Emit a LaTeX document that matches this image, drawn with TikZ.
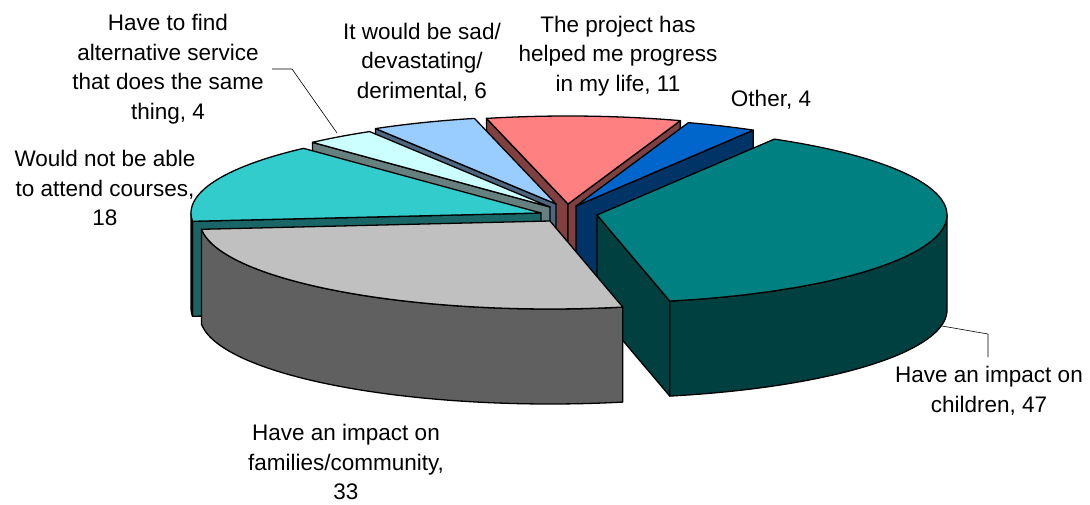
\documentclass[tikz,border=0pt]{standalone}
\usepackage{fontspec}
\setmainfont{Liberation Sans}
\usepackage{xcolor}
\usepackage{tikz}
\definecolor{childtop}{HTML}{008080}
\definecolor{childside}{HTML}{004040}
\definecolor{famtop}{HTML}{C0C0C0}
\definecolor{famside}{HTML}{606060}
\definecolor{atttop}{HTML}{33CCCC}
\definecolor{attside}{HTML}{1A6666}
\definecolor{alttop}{HTML}{CCFFFF}
\definecolor{altside}{HTML}{668080}
\definecolor{sadtop}{HTML}{99CCFF}
\definecolor{sadside}{HTML}{4D6680}
\definecolor{progtop}{HTML}{FF8080}
\definecolor{progside}{HTML}{804040}
\definecolor{othtop}{HTML}{0066CC}
\definecolor{othside}{HTML}{003366}
\pgfkeys{tikz/pieline/.style={draw=black,line width=1.3pt,line join=round}}
\pgfkeys{tikz/pielabel/.style={align=center,inner sep=0pt,font=\fontsize{22.5}{29.5}\selectfont}}
\pgfkeys{tikz/leader/.style={draw=black,line width=0.6pt}}
\newcommand\pieR{350}
\newcommand\pier{88}
\newcommand\pied{95}
% top face of a slice: centre, start angle, end angle, colour
\newcommand*\slicetop[5]{
    \filldraw[pieline,fill=#5] (#1,#2) -- plot[domain=#3:#4,samples=80] ({#1+\pieR*cos(\x)},{#2+\pier*sin(\x)}) -- cycle;
}
% curved outer side, front half only
\newcommand*\slicerim[5]{
    \filldraw[pieline,fill=#5] plot[domain=#3:#4,samples=80] ({#1+\pieR*cos(\x)},{#2+\pier*sin(\x)})
        -- plot[domain=#4:#3,samples=80] ({#1+\pieR*cos(\x)},{#2+\pied+\pier*sin(\x)}) -- cycle;
}
% radial wall at one angle
\newcommand*\slicewall[4]{
    \filldraw[pieline,fill=#4] (#1,#2) -- ({#1+\pieR*cos(#3)},{#2+\pier*sin(#3)})
        -- ({#1+\pieR*cos(#3)},{#2+\pied+\pier*sin(#3)}) -- (#1,{#2+\pied}) -- cycle;
}

\begin{document}
\begin{tikzpicture}[x=1pt,y=-1pt]
    \fill[white] (0,0) rectangle (1090,505);
    \useasboundingbox (0,0) rectangle (1090,505);
    % back slices
    \slicewall{568}{204}{256.53}{progside}
    \slicewall{568}{204}{288.73}{progside}
    \slicetop{568}{204}{256.53}{288.73}{progtop}
    \slicewall{556}{204}{238.97}{sadside}
    \slicetop{556}{204}{238.97}{256.53}{sadtop}
    \slicewall{550}{207}{227.27}{altside}
    \slicetop{550}{207}{227.27}{238.97}{alttop}
    \slicewall{576}{206}{300.44}{othside}
    \slicetop{576}{206}{288.73}{300.44}{othtop}
    \slicewall{541}{213}{174.585}{attside}
    \slicerim{541}{213}{174.585}{180}{attside}
    \slicetop{541}{213}{174.585}{227.27}{atttop}
    % front slices
    \slicewall{597}{215}{78}{childside}
    \slicerim{597}{215}{0}{78}{childside}
    \slicetop{597}{215}{300.44}{438}{childtop}
    \slicerim{550}{221}{78}{174.585}{famside}
    \slicetop{550}{221}{78}{174.585}{famtop}

    \node[pielabel] (lblalt) at (168,69) {Have to find\\alternative service\\that does the same\\thing, 4};
    \node[pielabel] (lblattend) at (105,188) {Would not be able\\to attend courses,\\18};
    \node[pielabel] (lblsad) at (422,62) {It would be sad/\\devastating/\\derimental, 6};
    \node[pielabel] (lblprog) at (618,56) {The project has\\helped me progress\\in my life, 11};
    \node[pielabel] (lblother) at (771,100) {Other, 4};
    \node[pielabel] (lblchildren) at (989,391) {Have an impact on\\children, 47};
    \node[pielabel] (lblfamilies) at (346,462) {Have an impact on\\families/community,\\33};

    \coordinate (altrim) at (337,133);
    \coordinate (altbend) at (292,69);
    \coordinate (altend) at (272,69);
    \draw[leader] (altrim) -- (altbend) -- (altend);
    \coordinate (childrim) at (942,326);
    \coordinate (childbend) at (988,334);
    \coordinate (childend) at (988,357);
    \draw[leader] (childrim) -- (childbend) -- (childend);
\end{tikzpicture}
\end{document}
